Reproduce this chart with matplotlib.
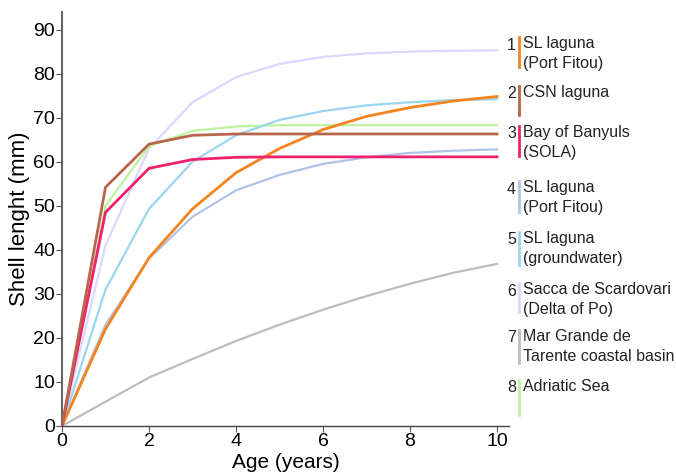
import numpy as np
import matplotlib
matplotlib.use("Agg")
import matplotlib.pyplot as plt
from matplotlib.lines import Line2D

plt.rcParams["font.family"] = ["Liberation Sans", "DejaVu Sans"]

ages = [0, 1, 2, 3, 4, 5, 6, 7, 8, 9, 10]

sl_port_fitou_1 = [0, 22, 38.2, 49.3, 57.5, 63, 67.3, 70.3, 72.3, 73.8, 74.8]
csn_laguna = [0, 54.2, 64, 66, 66.3, 66.3, 66.3, 66.3, 66.3, 66.3, 66.3]
banyuls = [0, 48.5, 58.5, 60.5, 61, 61.1, 61.1, 61.1, 61.1, 61.1, 61.1]
sl_port_fitou_4 = [0, 23, 38, 47.5, 53.5, 57, 59.5, 61, 62, 62.5, 62.8]
sl_groundwater = [0, 31, 49.3, 60, 66, 69.5, 71.5, 72.8, 73.5, 74, 74.2]
scardovari = [0, 41, 63, 73.5, 79.2, 82.2, 83.8, 84.6, 85, 85.2, 85.3]
tarente = [0, 5.5, 11, 15.2, 19.3, 23, 26.4, 29.5, 32.3, 34.8, 36.8]
adriatic = [0, 50, 63.5, 67, 68, 68.3, 68.3, 68.3, 68.3, 68.3, 68.3]

series = [sl_port_fitou_1, csn_laguna, banyuls, sl_port_fitou_4,
          sl_groundwater, scardovari, tarente, adriatic]
labels = ["SL laguna\n(Port Fitou)", "CSN laguna", "Bay of Banyuls\n(SOLA)",
          "SL laguna\n(Port Fitou)", "SL laguna\n(groundwater)",
          "Sacca de Scardovari\n(Delta of Po)",
          "Mar Grande de\nTarente coastal basin", "Adriatic Sea"]
colors = ["#f5841f", "#b8664c", "#f0206a", "#afc4e6",
          "#9dd4f2", "#ddd8fb", "#bdbdbd", "#bdf3a0"]
widths = [2.0, 2.0, 2.0, 1.6, 1.6, 1.6, 1.6, 1.6]

# drawing order: light ones behind
order = [5, 6, 7, 4, 3, 0, 2, 1]

fig = plt.figure(figsize=(6.76, 4.75), dpi=100)
ax = fig.add_axes([0.0917, 0.1032, 0.661, 0.8716])

for i in order:
    ax.plot(ages, series[i], color=colors[i], lw=widths[i], zorder=2 + order.index(i))

ax.set_xlim(0, 10.27)
ax.set_ylim(0, 94)
ax.set_xticks([0, 2, 4, 6, 8, 10])
ax.set_yticks(range(0, 91, 10))
for s in ["top", "right"]:
    ax.spines[s].set_visible(False)
ax.spines["left"].set_color("#666666")
ax.spines["left"].set_linewidth(1.5)
ax.spines["bottom"].set_color("#444444")
ax.spines["bottom"].set_linewidth(1.0)
ax.tick_params(axis="both", labelsize=14, length=4, color="#555555", pad=1)
ax.set_xlabel("Age (years)", fontsize=15, labelpad=2)
ax.set_ylabel("Shell lenght (mm)", fontsize=16, labelpad=2)

# custom numbered legend on the right
tops = [37, 86, 126, 181, 232, 283, 330, 380]
bottoms = [67, 115, 156, 212, 265, 312, 363, 415]
W, H = 676, 475
for k in range(8):
    y_top = 1 - tops[k] / H
    y_bot = 1 - bottoms[k] / H
    fig.add_artist(Line2D([519 / W, 519 / W], [y_bot, y_top], color=colors[k], lw=2))
    fig.text(516 / W, 1 - (tops[k] + 8) / H, str(k + 1), ha="right", va="center",
             fontsize=11.5, color="#222222")
    fig.text(523 / W, 1 - (tops[k] - 1) / H, labels[k], ha="left", va="top",
             fontsize=11.5, color="#222222", linespacing=1.4)

fig.savefig("out.png", dpi=100)
